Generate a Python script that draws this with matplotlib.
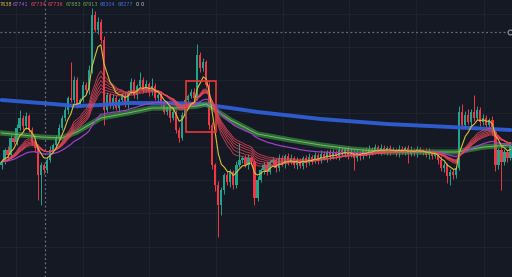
import numpy as np
import pandas as pd
import matplotlib
matplotlib.use("Agg")
import matplotlib.pyplot as plt
from matplotlib.patches import Rectangle

# closing prices, one per candle
close = [67680, 67800, 67750, 67920, 67880, 68020, 68120, 68040, 68140, 68000,
         67880, 67820, 67550, 67650, 67600, 67700, 67800, 67850, 67920, 68020,
         68120, 68200, 68320, 68300, 68500, 68260, 68300, 68450, 68400, 68600,
         69150, 69000, 69080, 68900, 68200, 68350, 68250, 68320, 68220, 68300,
         68340, 68260, 68380, 68480, 68350, 68440, 68500, 68400, 68460, 68380,
         68440, 68320, 68350, 68260, 68180, 68220, 68120, 68180, 68000, 67920,
         68150, 68300, 68340, 68380, 68320, 68750, 68620, 68680, 68450, 68050,
         67650, 67450, 67250, 67400, 67550, 67480, 67580, 67450, 67650, 67700,
         67720, 67650, 67720, 67680, 67320, 67500, 67600, 67650, 67580, 67680,
         67700, 67620, 67720, 67660, 67740, 67680, 67720, 67650, 67700, 67640,
         67720, 67670, 67730, 67690, 67750, 67700, 67760, 67720, 67780, 67730,
         67780, 67740, 67800, 67760, 67810, 67750, 67780, 67720, 67770, 67740,
         67800, 67760, 67810, 67780, 67830, 67790, 67820, 67780, 67820, 67790,
         67800, 67770, 67810, 67780, 67820, 67760, 67800, 67770, 67810, 67780,
         67790, 67750, 67780, 67740, 67760, 67700, 67620, 67650, 67540, 67580,
         67550, 67620, 68180, 68050, 68150, 68080, 68180, 68120, 68200, 68080,
         68120, 68050, 68100, 67980, 67650, 67800, 67680, 67780, 67720, 67840]
first_open = 67650

wick_up = [30, 20, 40, 30, 20, 40, 80, 30, 40, 20,
           30, 20, 40, 30, 20, 30, 40, 20, 30, 40,
           30, 40, 20, 360, 40, 30, 20, 40, 30, 50,
           70, 40, 50, 30, 40, 30, 20, 40, 30, 20,
           30, 40, 20, 40, 30, 20, 80, 30, 40, 20,
           80, 30, 20, 40, 30, 20, 30, 40, 20, 30,
           30, 40, 20, 30, 40, 110, 30, 40, 20, 30,
           30, 20, 40, 30, 20, 40, 30, 20, 40, 170,
           20, 30, 40, 20, 30, 40, 20, 30, 40, 20,
           30, 20, 40, 30, 20, 30, 40, 20, 30, 20,
           20, 30, 40, 20, 30, 20, 40, 30, 20, 30,
           30, 20, 40, 30, 20, 30, 40, 20, 30, 20,
           20, 30, 40, 20, 30, 20, 40, 30, 20, 30,
           30, 20, 40, 30, 20, 30, 40, 20, 30, 20,
           20, 30, 40, 20, 30, 20, 40, 30, 20, 30,
           30, 20, 60, 80, 40, 60, 30, 170, 40, 30,
           40, 30, 20, 40, 30, 20, 40, 30, 20, 30]

wick_dn = [40, 20, 30, 40, 20, 30, 20, 40, 30, 20,
           30, 40, 250, 300, 40, 30, 20, 30, 40, 20,
           20, 30, 40, 20, 30, 40, 30, 20, 30, 40,
           30, 20, 40, 30, 150, 20, 30, 40, 20, 30,
           20, 30, 40, 20, 30, 40, 20, 30, 20, 40,
           30, 20, 40, 30, 20, 30, 40, 20, 30, 40,
           20, 30, 40, 20, 30, 20, 40, 30, 20, 40,
           40, 60, 320, 100, 40, 30, 50, 40, 30, 20,
           30, 20, 40, 30, 70, 30, 20, 40, 30, 20,
           20, 40, 30, 20, 40, 30, 20, 30, 40, 20,
           30, 40, 20, 30, 20, 40, 30, 20, 40, 30,
           20, 30, 40, 20, 30, 40, 20, 120, 30, 40,
           30, 20, 40, 30, 20, 30, 40, 20, 30, 40,
           20, 30, 40, 20, 30, 90, 20, 30, 40, 20,
           30, 20, 40, 30, 20, 40, 30, 40, 70, 90,
           40, 30, 20, 40, 30, 20, 40, 30, 20, 40,
           30, 20, 40, 30, 60, 40, 280, 30, 40, 20]

# long moving averages (candle index, price)
blue_idx = [0, 13, 25, 33, 42, 56, 66, 76, 85, 106, 128, 149, 169]
blue_val = [68300, 68270, 68240, 68250, 68270, 68270, 68260, 68220, 68180, 68110, 68060, 68030, 68000]
green_idx = [0, 7, 13, 20, 25, 33, 42, 50, 58, 65, 68, 71, 76, 85, 96, 106, 116, 128, 144, 151, 160, 169]
green_val = [67970, 67950, 67930, 67920, 67980, 68120, 68170, 68220, 68220, 68240, 68260, 68200,
             68100, 67960, 67900, 67850, 67810, 67780, 67780, 67780, 67830, 67850]

# legend values at the top
legend_vals = ["7638", "67741", "67734", "67736", "67883", "67913", "68304", "68277", "0", "0"]
legend_cols = ["#d6c03c", "#a259d9", "#e8475a", "#e8475a", "#66a84e", "#66a84e",
               "#3d6fe0", "#3d6fe0", "#d1d4dc", "#d1d4dc"]
legend_x = [0, 13, 31, 48, 66, 83, 100, 118, 136, 141]

close = np.array(close)
opens = np.r_[first_open, close[:-1]]
high = np.maximum(opens, close) + np.array(wick_up)
low = np.minimum(opens, close) - np.array(wick_dn)
n = len(close)
idx = np.arange(n)

bg = "#151924"
fig = plt.figure(figsize=(5.12, 2.77), dpi=100, facecolor=bg)
ax = fig.add_axes([0, 0, 1, 1], facecolor=bg)
ax.set_xlim(-0.5, n - 0.5)
ax.set_ylim(66530, 69300)
ax.axis("off")

# faint grid
for gx in [16, 83, 149, 216, 283, 349, 416, 484]:
    ax.axvline(gx / 512 * n - 0.5, color="#1f2431", lw=0.6, zorder=0)
for gy in [14, 47, 80, 113, 147, 180, 213, 247]:
    ax.axhline(69300 - gy * 10, color="#1f2431", lw=0.6, zorder=0)

up = close >= opens
cols = np.where(up, "#22a38c", "#f23645")
ax.vlines(idx, low, high, colors=cols, lw=0.7, zorder=2)
body = np.maximum(np.abs(close - opens), 8)
ax.bar(idx, body, bottom=np.minimum(opens, close), width=0.72, color=cols, lw=0, zorder=3)

# moving averages
s = pd.Series(close)
ax.plot(blue_idx, blue_val, color="#2f5fd6", lw=2.8, alpha=0.95, zorder=4, solid_capstyle="round")
ax.plot(green_idx, green_val, color="#43a047", lw=3.8, alpha=0.6, zorder=4)
ax.plot(green_idx, green_val, color="#6fbf5f", lw=0.7, zorder=4)
ax.plot(idx, s.ewm(span=45, adjust=False).mean(), color="#9c3fc9", lw=0.9, zorder=5)
for sp in [14, 16, 18, 20, 22, 24]:
    ax.plot(idx, s.ewm(span=sp, adjust=False).mean(), color="#e8475a", lw=0.6, alpha=0.85, zorder=5)
ax.plot(idx, s.ewm(span=6, adjust=False).mean(), color="#d6c03c", lw=0.8, zorder=6)

# highlight box
ax.add_patch(Rectangle((61.3, 67980), 9.9, 510, fill=False, ec="#e53935", lw=1.2, zorder=7))

# crosshair
ax.axvline(14.4, color="#6b6f7c", lw=0.9, ls=(0, (1.5, 2)), zorder=8)
ax.axhline(68980, color="#6b6f7c", lw=0.9, ls=(0, (1.5, 2)), zorder=8)
ax.plot([n - 1.2], [68980], "o", ms=3.5, mfc=bg, mec="#9598a1", mew=0.8, zorder=9)

for t, c, x in zip(legend_vals, legend_cols, legend_x):
    fig.text(x / 512, 1 - 4.5 / 277, t, color=c, fontsize=3.5, va="center", ha="left")

fig.savefig("out.png", dpi=100, facecolor=bg)
